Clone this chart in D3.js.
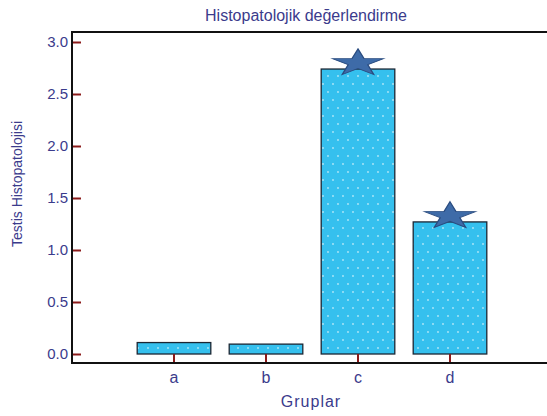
<!DOCTYPE html>
<html>
<head>
<meta charset="utf-8">
<script src="https://cdn.jsdelivr.net/npm/d3@7"></script>
<style>
  html, body { margin: 0; padding: 0; background: #fff; }
  svg { display: block; font-family: "Liberation Sans", Arial, sans-serif; }
</style>
</head>
<body>
<svg id="chart" width="547" height="416"></svg>
<script>
const categories = ["a", "b", "c", "d"];
const values = [0.11, 0.095, 2.74, 1.27];
const significant = [false, false, true, true];
const yTicks = [0.0, 0.5, 1.0, 1.5, 2.0, 2.5, 3.0];
const chartTitle = "Histopatolojik değerlendirme";
const xTitle = "Gruplar";
const yTitle = "Testis Histopatolojisi";

const W = 547, H = 416;
const frame = { left: 72, top: 32, bottom: 363, right: 560 };
const textColor = "#3b3b8c";
const tickColor = "#8b1a1a";

const svg = d3.select("#chart");

// dotted pattern
const defs = svg.append("defs");
const pat = defs.append("pattern")
  .attr("id", "dots").attr("patternUnits", "userSpaceOnUse")
  .attr("width", 10).attr("height", 16);
pat.append("rect").attr("width", 10).attr("height", 16).attr("fill", "#35c0ee");
pat.append("circle").attr("cx", 3).attr("cy", 4).attr("r", 0.9).attr("fill", "#b3e8f8");
pat.append("circle").attr("cx", 8).attr("cy", 12).attr("r", 0.9).attr("fill", "#b3e8f8");

const x = d3.scaleBand().domain(categories).range([128, 496]).paddingInner(0.2).paddingOuter(0.1);
const y = d3.scaleLinear().domain([0, 3]).range([354, 42]);

// bars
svg.append("g").selectAll("rect").data(categories).join("rect")
  .attr("x", d => x(d))
  .attr("y", (d, i) => y(values[i]))
  .attr("width", x.bandwidth())
  .attr("height", (d, i) => y(0) - y(values[i]))
  .attr("fill", "url(#dots)")
  .attr("stroke", "#1b2633")
  .attr("stroke-width", 1.3);

// stars
const star = d3.symbol().type(d3.symbolStar).size(250);
svg.append("g").selectAll("path").data(categories.filter((d, i) => significant[i])).join("path")
  .attr("d", star)
  .attr("transform", d => {
    const i = categories.indexOf(d);
    return `translate(${x(d) + x.bandwidth() / 2},${y(values[i]) - 6}) scale(1.8,0.95)`;
  })
  .attr("fill", "#3e6ba8")
  .attr("stroke", "#2a4c80")
  .attr("stroke-width", 0.8);

// y axis
const yAxis = d3.axisRight(y).tickValues(yTicks).tickSize(9).tickFormat(d3.format(".1f"));
const gy = svg.append("g").attr("transform", `translate(${frame.left},0)`).call(yAxis);
gy.select(".domain").remove();
gy.selectAll(".tick line").attr("stroke", tickColor).attr("stroke-width", 2);
gy.selectAll(".tick text")
  .attr("x", -4).attr("text-anchor", "end")
  .attr("fill", textColor).attr("font-size", 15)
  .attr("font-family", "Liberation Sans, Arial, sans-serif");

// x axis
const xAxis = d3.axisTop(x).tickSize(9).tickSizeOuter(0);
const gx = svg.append("g").attr("transform", `translate(0,${frame.bottom})`).call(xAxis);
gx.select(".domain").remove();
gx.selectAll(".tick line").attr("stroke", tickColor).attr("stroke-width", 2);
gx.selectAll(".tick text")
  .attr("y", 20).attr("dy", 0)
  .attr("fill", textColor).attr("font-size", 16)
  .attr("font-family", "Liberation Sans, Arial, sans-serif");

// frame
svg.append("path")
  .attr("d", `M${frame.right},${frame.top}H${frame.left}V${frame.bottom}H${frame.right}`)
  .attr("fill", "none").attr("stroke", "#111").attr("stroke-width", 2);

// titles
svg.append("text").attr("x", 306).attr("y", 21).attr("text-anchor", "middle")
  .attr("fill", textColor).attr("font-size", 16).text(chartTitle);
svg.append("text").attr("x", 311).attr("y", 407).attr("text-anchor", "middle")
  .attr("fill", textColor).attr("font-size", 16).attr("letter-spacing", 1).text(xTitle);
svg.append("text").attr("transform", "translate(22,184) rotate(-90)").attr("text-anchor", "middle")
  .attr("fill", textColor).attr("font-size", 14).text(yTitle);
</script>
</body>
</html>
